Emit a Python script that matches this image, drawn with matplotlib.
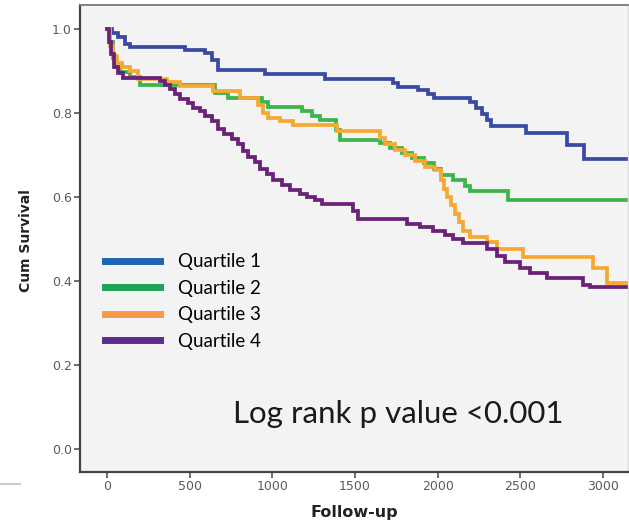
import matplotlib
matplotlib.use("Agg")
import matplotlib.pyplot as plt
from matplotlib.lines import Line2D

# Kaplan-Meier step data: event times (days) and cumulative survival after each step
q1_time = [0, 30, 67, 109, 139, 472, 593, 635, 671, 956, 1318, 1730, 1760, 1881,
           1941, 1978, 2195, 2232, 2268, 2298, 2322, 2534, 2782, 2885, 3160]
q1_surv = [1.0, 0.99, 0.98, 0.965, 0.957, 0.95, 0.943, 0.925, 0.902, 0.893, 0.881,
           0.872, 0.862, 0.855, 0.845, 0.836, 0.826, 0.812, 0.798, 0.783, 0.769,
           0.752, 0.724, 0.69, 0.69]

q2_time = [0, 18, 36, 54, 79, 139, 200, 653, 732, 937, 974, 1179, 1240, 1288, 1385,
           1409, 1651, 1712, 1784, 1845, 1917, 1978, 2020, 2093, 2165, 2195, 2425, 3160]
q2_surv = [1.0, 0.97, 0.93, 0.91, 0.898, 0.886, 0.867, 0.848, 0.836, 0.826, 0.814,
           0.805, 0.793, 0.783, 0.76, 0.736, 0.728, 0.717, 0.705, 0.693, 0.681,
           0.667, 0.652, 0.64, 0.626, 0.614, 0.593, 0.593]

q3_time = [0, 18, 36, 60, 91, 139, 187, 363, 441, 641, 804, 913, 944, 974, 1046,
           1125, 1391, 1651, 1681, 1742, 1802, 1863, 1923, 1984, 2020, 2038, 2056,
           2081, 2105, 2129, 2153, 2195, 2298, 2359, 2516, 2939, 3024, 3160]
q3_surv = [1.0, 0.96, 0.935, 0.92, 0.91, 0.9, 0.88, 0.874, 0.865, 0.852, 0.836, 0.82,
           0.8, 0.788, 0.78, 0.771, 0.757, 0.74, 0.725, 0.712, 0.7, 0.686, 0.672,
           0.664, 0.64, 0.62, 0.6, 0.58, 0.56, 0.54, 0.52, 0.505, 0.493, 0.476,
           0.458, 0.43, 0.396, 0.396]

q4_time = [0, 12, 24, 42, 67, 97, 320, 351, 381, 411, 441, 490, 520, 562, 593, 635,
           671, 708, 756, 792, 823, 853, 895, 925, 968, 1004, 1058, 1107, 1167, 1210,
           1258, 1300, 1488, 1518, 1814, 1893, 1972, 2044, 2093, 2153, 2298, 2359,
           2407, 2498, 2558, 2661, 2879, 2921, 3160]
q4_surv = [1.0, 0.97, 0.94, 0.91, 0.895, 0.883, 0.876, 0.866, 0.857, 0.845, 0.833,
           0.824, 0.812, 0.805, 0.793, 0.78, 0.762, 0.75, 0.738, 0.726, 0.71, 0.695,
           0.683, 0.667, 0.655, 0.64, 0.629, 0.617, 0.607, 0.6, 0.593, 0.583, 0.567,
           0.548, 0.536, 0.528, 0.52, 0.51, 0.5, 0.49, 0.475, 0.46, 0.445, 0.43,
           0.418, 0.408, 0.39, 0.386, 0.386]

group_labels = ["Quartile 1", "Quartile 2", "Quartile 3", "Quartile 4"]
curve_colors = ["#3a4aa2", "#3cb54b", "#f6a832", "#6a2278"]
legend_colors = ["#1f64ae", "#1ea45a", "#f39a4e", "#5b2d8e"]

x_ticks = [0, 500, 1000, 1500, 2000, 2500, 3000]
y_ticks = [0.0, 0.2, 0.4, 0.6, 0.8, 1.0]

fig = plt.figure(figsize=(6.29, 5.24), dpi=100)
fig.patch.set_facecolor("white")
ax = fig.add_axes([80 / 629, 1 - 472 / 524, 548 / 629, 467 / 524])
ax.set_facecolor("#f3f3f3")

series = [(q1_time, q1_surv), (q2_time, q2_surv), (q3_time, q3_surv), (q4_time, q4_surv)]
for (t, s), c in zip(series, curve_colors):
    ax.step(t, s, where="post", color=c, lw=2.7, solid_joinstyle="miter")

ax.set_xlim(-163, 3152)
ax.set_ylim(-0.055, 1.057)
ax.set_xticks(x_ticks)
ax.set_yticks(y_ticks)
ax.set_xticklabels([str(v) for v in x_ticks])
ax.set_yticklabels([f"{v:.1f}" for v in y_ticks])
ax.tick_params(direction="out", length=4, width=1.2, colors="#555555",
               labelsize=9, pad=2)
for lab in ax.get_xticklabels() + ax.get_yticklabels():
    lab.set_family("DejaVu Sans")
    lab.set_color("#5a5a5a")

for side in ("left", "bottom"):
    ax.spines[side].set_color("#444444")
    ax.spines[side].set_linewidth(1.6)
ax.spines["top"].set_color("#777777")
ax.spines["top"].set_linewidth(1.3)
ax.spines["right"].set_color("#dddddd")
ax.spines["right"].set_linewidth(1.0)

ax.set_ylabel("Cum Survival", family="DejaVu Sans", fontweight="bold",
              fontsize=10, color="#222222")
ax.yaxis.set_label_coords(-0.086, 0.495)
ax.set_xlabel("Follow-up", family="DejaVu Sans", fontweight="bold",
              fontsize=11.5, color="#222222")
ax.xaxis.set_label_coords(0.5, -0.071)
ax.xaxis.label.set_va("top")

handles = [Line2D([], [], color=c, lw=5) for c in legend_colors]
ax.legend(handles, group_labels, loc="upper left", bbox_to_anchor=(0.046, 0.468),
          frameon=False, prop={"family": "Lato", "size": 13.5}, handlelength=2.93,
          handletextpad=0.96, labelspacing=0.5, borderpad=0, borderaxespad=0)

ax.text(0.279, 0.124, "Log rank p value <0.001", transform=ax.transAxes,
        family="Lato", fontsize=22.5, color="#1a1a1a", va="center", ha="left")

# short rule at the lower-left margin
fig.add_artist(Line2D([0, 20 / 629], [1 - 484 / 524, 1 - 484 / 524],
                      color="#cccccc", lw=1.5, transform=fig.transFigure))

fig.savefig("out.png", dpi=100)
